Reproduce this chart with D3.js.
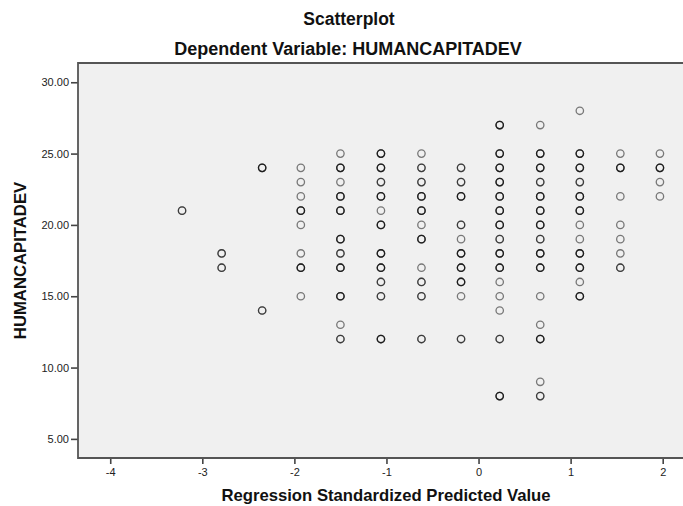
<!DOCTYPE html>
<html>
<head>
<meta charset="utf-8">
<script src="https://cdn.jsdelivr.net/npm/d3@7"></script>
<style>
  body { margin: 0; background: #fff; }
  svg { display: block; font-family: Arial, "Liberation Sans", sans-serif; }
</style>
</head>
<body>
<svg id="chart" width="683" height="506"></svg>
<script>
// standardized predicted value of each column of points
const predicted = [-3.22, -2.79, -2.35, -1.93, -1.50, -1.06, -0.62, -0.19, 0.23, 0.67, 1.10, 1.54, 1.97];

// HUMANCAPITADEV values found in each column
const humanCapital = [
  [21],
  [18, 17],
  [24, 14],
  [24, 23, 22, 21, 20, 18, 17, 15],
  [25, 24, 23, 22, 21, 19, 18, 17, 15, 13, 12],
  [25, 24, 23, 22, 21, 20, 18, 17, 16, 15, 12],
  [25, 24, 23, 22, 21, 20, 19, 17, 16, 15, 12],
  [24, 23, 22, 20, 19, 18, 17, 16, 15, 12],
  [27, 25, 24, 23, 22, 21, 20, 19, 18, 17, 16, 15, 14, 12, 8],
  [27, 25, 24, 23, 22, 21, 20, 19, 18, 17, 15, 13, 12, 9, 8],
  [28, 25, 24, 23, 22, 21, 20, 19, 18, 17, 16, 15],
  [25, 24, 22, 20, 19, 18, 17],
  [25, 24, 23, 22]
];

// how many cases sit on each spot (read from how dark the ring is)
const overlap = [
  [2],
  [2, 2],
  [3, 2],
  [1, 1, 1, 3, 1, 1, 3, 1],
  [1, 3, 1, 3, 3, 3, 2, 3, 3, 1, 2],
  [3, 3, 2, 3, 1, 3, 3, 3, 2, 2, 3],
  [1, 2, 2, 3, 3, 1, 3, 1, 2, 2, 2],
  [2, 2, 3, 2, 1, 3, 3, 3, 1, 2],
  [3, 3, 3, 3, 3, 3, 3, 2, 3, 3, 1, 1, 1, 2, 3],
  [1, 3, 3, 2, 3, 3, 3, 2, 3, 3, 1, 1, 3, 1, 2],
  [1, 3, 3, 2, 3, 3, 1, 1, 3, 3, 1, 3],
  [1, 3, 1, 1, 1, 1, 2],
  [1, 3, 1, 1]
];

const xTicks = [-4, -3, -2, -1, 0, 1, 2];
const yTicks = [5, 10, 15, 20, 25, 30];

const svg = d3.select('#chart');
const frame = { left: 78, top: 63, right: 694, bottom: 458 };

const x = d3.scaleLinear().domain([-4.35, 2.34]).range([frame.left, frame.right]);
const y = d3.scaleLinear().domain([3.66, 31.35]).range([frame.bottom, frame.top]);

// titles
svg.append('text')
  .attr('x', 349).attr('y', 25)
  .attr('text-anchor', 'middle')
  .attr('font-size', '17.5px').attr('font-weight', 'bold').attr('fill', '#111')
  .text('Scatterplot');
svg.append('text')
  .attr('x', 348).attr('y', 55)
  .attr('text-anchor', 'middle')
  .attr('font-size', '18px').attr('font-weight', 'bold').attr('fill', '#111')
  .text('Dependent Variable: HUMANCAPITADEV');

// plot background
svg.append('rect')
  .attr('x', frame.left).attr('y', frame.top)
  .attr('width', frame.right - frame.left).attr('height', frame.bottom - frame.top)
  .attr('fill', '#f0f0f0');

// axes (plain hyphen for negatives, like the original)
const xAxis = svg.append('g')
  .attr('transform', `translate(0,${frame.bottom})`)
  .call(d3.axisBottom(x).tickValues(xTicks).tickFormat(d => String(d)).tickSize(6).tickSizeOuter(0).tickPadding(4));
const yAxis = svg.append('g')
  .attr('transform', `translate(${frame.left},0)`)
  .call(d3.axisLeft(y).tickValues(yTicks).tickFormat(d => d.toFixed(2)).tickSize(7).tickSizeOuter(0).tickPadding(2));

[xAxis, yAxis].forEach(g => {
  g.select('.domain').remove();
  g.selectAll('line').attr('stroke', '#444').attr('stroke-width', 1.6);
  g.selectAll('text').attr('font-size', '11px').attr('fill', '#222').attr('font-family', 'Arial, "Liberation Sans", sans-serif');
});

// frame border
svg.append('path')
  .attr('d', `M${frame.left},${frame.bottom}V${frame.top}H${frame.right}V${frame.bottom}Z`)
  .attr('fill', 'none').attr('stroke', '#555').attr('stroke-width', 1.8);

// points, one ring per case so overlaps get darker
const cases = [];
predicted.forEach((px, i) => {
  humanCapital[i].forEach((v, j) => {
    for (let k = 0; k < overlap[i][j]; k++) cases.push({ px: px, v: v });
  });
});

svg.append('g').selectAll('circle')
  .data(cases)
  .enter()
  .append('circle')
  .attr('cx', d => x(d.px))
  .attr('cy', d => y(d.v))
  .attr('r', 3.7)
  .attr('fill', 'none')
  .attr('stroke', '#000')
  .attr('stroke-opacity', 0.5)
  .attr('stroke-width', 1.3);

// axis titles
svg.append('text')
  .attr('x', 386).attr('y', 501)
  .attr('text-anchor', 'middle')
  .attr('font-size', '16.7px').attr('font-weight', 'bold').attr('fill', '#111')
  .text('Regression Standardized Predicted Value');
svg.append('text')
  .attr('transform', `translate(26,${(frame.top + frame.bottom) / 2}) rotate(-90)`)
  .attr('text-anchor', 'middle')
  .attr('font-size', '16.7px').attr('font-weight', 'bold').attr('fill', '#111')
  .text('HUMANCAPITADEV');
</script>
</body>
</html>
